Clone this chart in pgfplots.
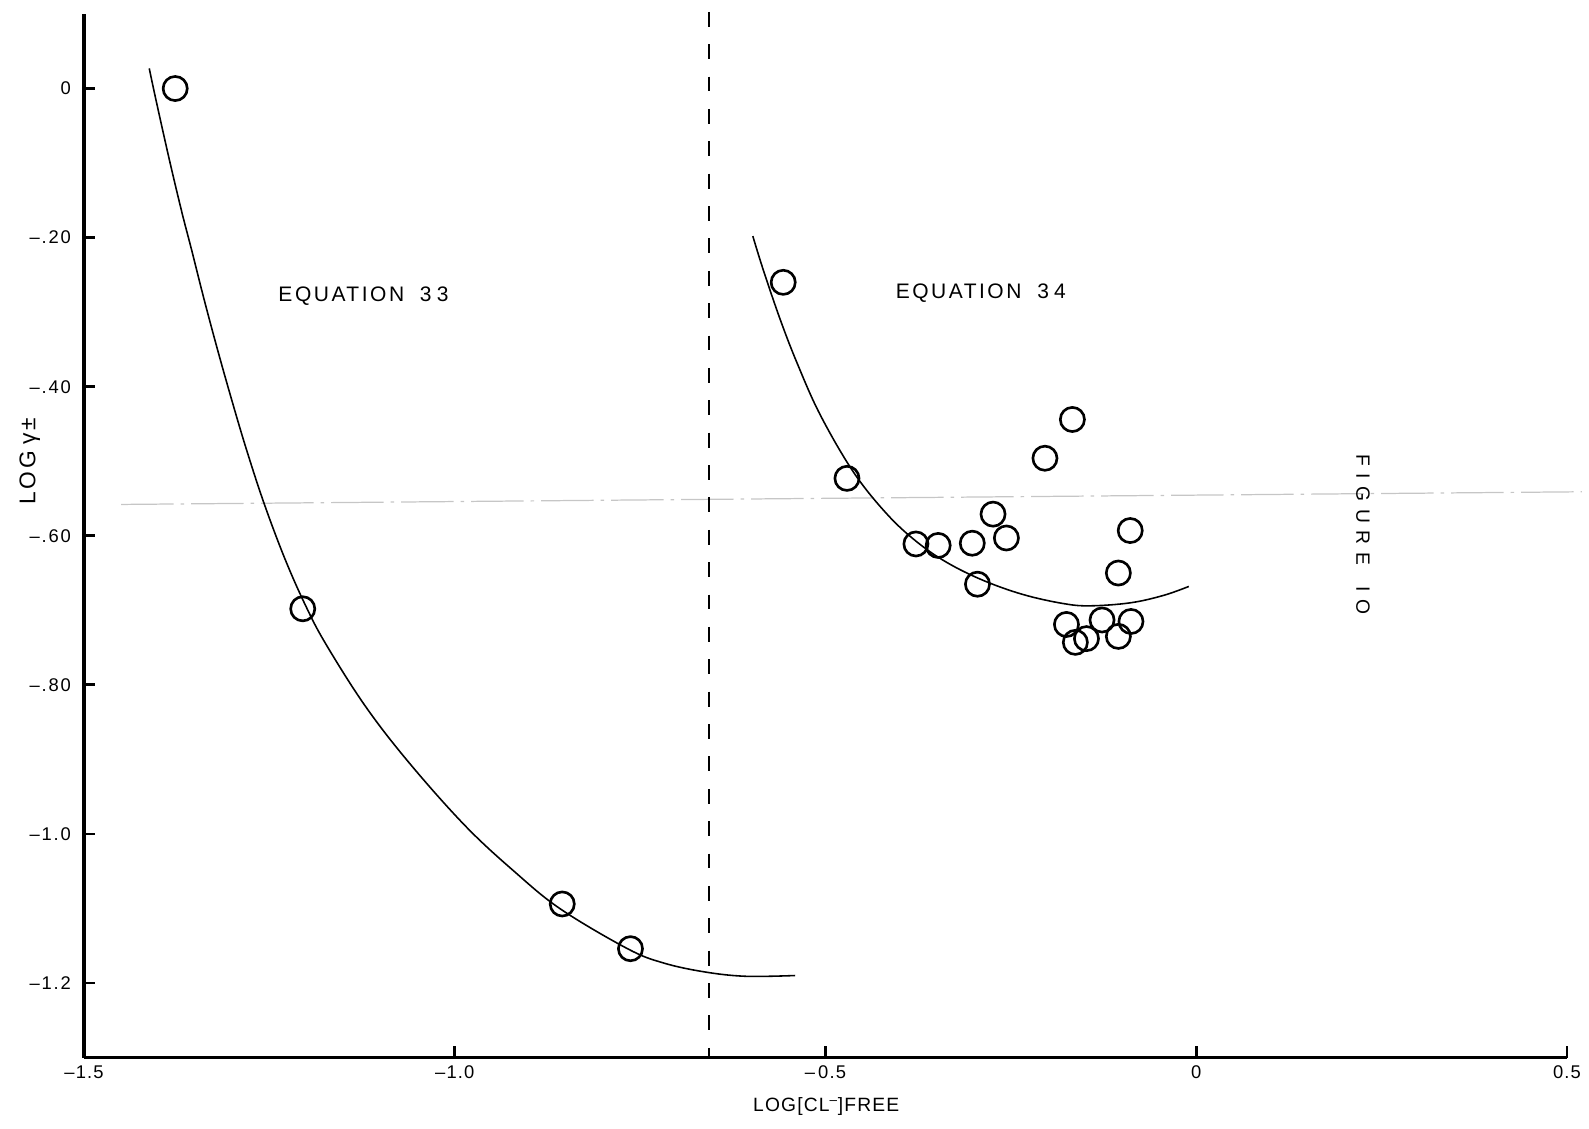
\documentclass[border=0pt]{standalone}
\usepackage{fontspec}
\setmainfont{Liberation Sans}
\newfontfamily\eqfont{Liberation Sans}[LetterSpace=12]
\newfontfamily\ytfont{Liberation Sans}[LetterSpace=10]
\newfontfamily\xtfont{Liberation Sans}[LetterSpace=6]
\newfontfamily\figfont{Liberation Sans}[LetterSpace=40]
\usepackage{pgfplots}
\usepackage{pgfplotstable}
\pgfplotsset{compat=1.18}

\pgfplotstableread{
x y
-1.412 0.027
-1.403 -0.015
-1.385 -0.095
-1.368 -0.166
-1.355 -0.216
-1.338 -0.283
-1.320 -0.350
-1.301 -0.417
-1.281 -0.484
-1.257 -0.557
-1.229 -0.631
-1.201 -0.694
-1.174 -0.745
-1.121 -0.828
-1.062 -0.904
-0.986 -0.989
-0.919 -1.051
-0.857 -1.101
-0.767 -1.154
-0.719 -1.173
-0.664 -1.185
-0.608 -1.191
-0.541 -1.190
}\leftcurve

\pgfplotstableread{
x y
-0.598 -0.198
-0.584 -0.243
-0.561 -0.310
-0.538 -0.369
-0.507 -0.438
-0.462 -0.515
-0.417 -0.571
-0.377 -0.608
-0.336 -0.636
-0.287 -0.660
-0.233 -0.679
-0.179 -0.691
-0.143 -0.694
-0.089 -0.690
-0.044 -0.680
-0.010 -0.668
}\rightcurve

\pgfplotstableread{
x y
-1.377 0.000
-1.205 -0.698
-0.855 -1.094
-0.763 -1.154
}\leftpts

\pgfplotstableread{
x y
-0.557 -0.260
-0.471 -0.523
-0.378 -0.611
-0.348 -0.613
-0.302 -0.610
-0.274 -0.571
-0.256 -0.603
-0.295 -0.665
-0.204 -0.496
-0.167 -0.444
-0.089 -0.593
-0.105 -0.650
-0.175 -0.719
-0.163 -0.743
-0.148 -0.738
-0.127 -0.713
-0.105 -0.735
-0.088 -0.715
}\rightpts

\begin{document}
\begin{tikzpicture}
\begin{axis}[
  scale only axis, width=847.4pt, height=596.3pt,
  xmin=-1.5, xmax=0.5, ymin=-1.3, ymax=0.10,
  axis x line=bottom, axis y line=left,
  axis line style={line width=2pt, -},
  tick align=inside,
  major tick length=6.5pt,
  every tick/.style={line width=1.6pt, black},
  xtick={-1.5,-1,-0.5,0,0.5},
  xticklabels={–1.5, –1.0, –\,0.5, 0, 0.5},
  ytick={0,-0.2,-0.4,-0.6,-0.8,-1.0,-1.2},
  yticklabels={0, –.20, –.40, –.60, –.80, –1.0, –1.2},
  xticklabel style={font=\xtfont\fontsize{10.5}{12}\selectfont, yshift=-1pt},
  yticklabel style={font=\ytfont\fontsize{10.5}{12}\selectfont, xshift=-4pt},
  clip=false,
]
% faint ruling line of the paper
\addplot[gray!45, line width=0.7pt, dash pattern=on 30pt off 4pt on 2pt off 4pt] coordinates {(-1.45,-0.558) (0.52,-0.541)};
% dividing line
\addplot[black, line width=1.2pt, dash pattern=on 8.5pt off 10pt] coordinates {(-0.657,0.103) (-0.657,-1.3)};
% fitted curves
\addplot[black, line width=0.9pt, smooth, tension=0.6] table[x=x,y=y] {\leftcurve};
\addplot[black, line width=0.9pt, smooth, tension=0.6] table[x=x,y=y] {\rightcurve};
% data
\addplot[only marks, mark=o, mark size=6.9pt, mark options={line width=1.5pt, black, fill=none}] table[x=x,y=y] {\leftpts};
\addplot[only marks, mark=o, mark size=6.9pt, mark options={line width=1.5pt, black, fill=none}] table[x=x,y=y] {\rightpts};
% labels
\node[font=\eqfont\fontsize{12}{14}\selectfont] at (axis cs:-1.123,-0.279) {EQUATION\hspace{9pt}3\hspace{3pt}3};
\node[font=\eqfont\fontsize{12}{14}\selectfont] at (axis cs:-0.2905,-0.275) {EQUATION\hspace{9pt}3\hspace{3pt}4};
\node[font=\figfont\fontsize{11}{12}\selectfont, rotate=-90] at (axis cs:0.225,-0.598) {FIGURE\hspace{12pt}IO};
\node[font=\eqfont\fontsize{13}{14}\selectfont, rotate=90] at (axis cs:-1.573,-0.50) {LOG\hspace{4pt}γ±};
\node[font=\xtfont\fontsize{11}{12}\selectfont] at (axis cs:-0.499,-1.366) {LOG[CL\textsuperscript{–}]FREE};
\end{axis}
\pgfresetboundingbox
\path[use as bounding box] ([shift={(-48pt,-40.3pt)}]current axis.south west) rectangle ([shift={(12.6pt,8pt)}]current axis.north east);
\end{tikzpicture}
\end{document}
